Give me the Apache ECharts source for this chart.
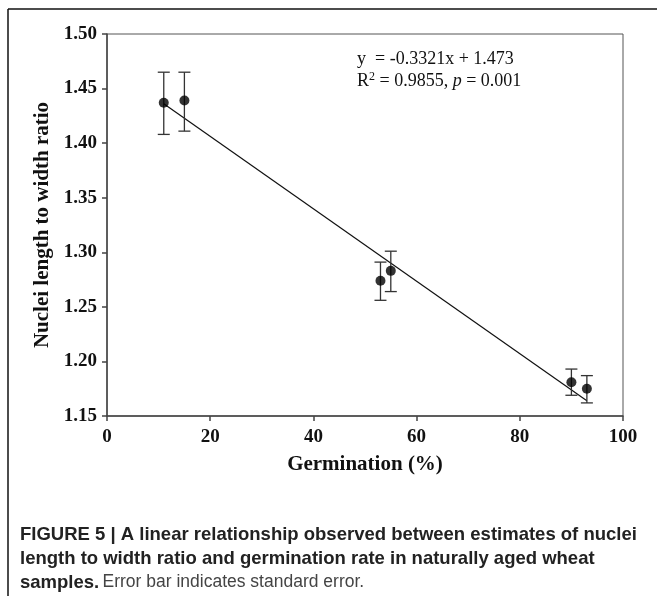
<!DOCTYPE html>
<html>
<head>
<meta charset="utf-8">
<script src="https://cdn.jsdelivr.net/npm/echarts@6/dist/echarts.min.js"></script>
<style>
  html, body { margin: 0; padding: 0; background: #fff; }
  #chart { width: 657px; height: 596px; }
</style>
</head>
<body>
<div id="chart"></div>
<script>
// germination (%) vs nuclei length/width ratio, with standard error
const germination = [11, 15, 53, 55, 90, 93];
const ratio = [1.437, 1.439, 1.274, 1.283, 1.181, 1.175];
const errLow = [1.408, 1.411, 1.256, 1.264, 1.169, 1.162];
const errHigh = [1.465, 1.465, 1.291, 1.301, 1.193, 1.187];
// fitted line end points (y = -0.3321x + 1.473)
const fitLine = [[11, 1.436], [93, 1.164]];
const xTicks = [0, 20, 40, 60, 80, 100];
const yTicks = [1.15, 1.20, 1.25, 1.30, 1.35, 1.40, 1.45, 1.50];

const chart = echarts.init(document.getElementById('chart'));

const serif = 'Liberation Serif';
const sans = 'Liberation Sans';

const points = germination.map((g, i) => [g, ratio[i]]);
const errData = germination.map((g, i) => [g, errLow[i], errHigh[i]]);

const option = {
  backgroundColor: '#fff',
  animation: false,
  grid: {
    left: 107, right: 34, top: 34, bottom: 180,
    show: true,
    borderColor: '#555',
    borderWidth: 1
  },
  xAxis: {
    type: 'value',
    min: xTicks[0],
    max: xTicks[xTicks.length - 1],
    interval: 20,
    name: 'Germination (%)',
    nameLocation: 'middle',
    nameGap: 38,
    nameTextStyle: { fontFamily: serif, fontWeight: 'bold', fontSize: 21, color: '#111' },
    axisLine: { show: true, onZero: false, lineStyle: { color: '#444', width: 1.5 } },
    axisTick: { show: true, inside: false, length: 5, lineStyle: { color: '#444', width: 1.5 } },
    axisLabel: { fontFamily: serif, fontWeight: 'bold', fontSize: 19, color: '#111', margin: 12 },
    splitLine: { show: false }
  },
  yAxis: {
    type: 'value',
    min: yTicks[0],
    max: yTicks[yTicks.length - 1],
    interval: 0.05,
    name: 'Nuclei length to width ratio',
    nameLocation: 'middle',
    nameGap: 54,
    nameTextStyle: { fontFamily: serif, fontWeight: 'bold', fontSize: 21, color: '#111' },
    axisLine: { show: true, onZero: false, lineStyle: { color: '#444', width: 1.5 } },
    axisTick: { show: true, inside: false, length: 5, lineStyle: { color: '#444', width: 1.5 } },
    axisLabel: {
      fontFamily: serif, fontWeight: 'bold', fontSize: 19, color: '#111', margin: 10,
      formatter: v => v.toFixed(2)
    },
    splitLine: { show: false }
  },
  series: [
    {
      name: 'fit',
      type: 'line',
      data: fitLine,
      symbol: 'none',
      lineStyle: { color: '#111', width: 1.2 },
      z: 2
    },
    {
      name: 'se',
      type: 'custom',
      data: errData,
      renderItem: (params, api) => {
        const x = api.value(0);
        const lo = api.coord([x, api.value(1)]);
        const hi = api.coord([x, api.value(2)]);
        const cap = 6;
        const style = { stroke: '#333', lineWidth: 1.3 };
        return {
          type: 'group',
          children: [
            { type: 'line', shape: { x1: lo[0], y1: lo[1], x2: hi[0], y2: hi[1] }, style },
            { type: 'line', shape: { x1: lo[0] - cap, y1: lo[1], x2: lo[0] + cap, y2: lo[1] }, style },
            { type: 'line', shape: { x1: hi[0] - cap, y1: hi[1], x2: hi[0] + cap, y2: hi[1] }, style }
          ]
        };
      },
      z: 3
    },
    {
      name: 'ratio',
      type: 'scatter',
      data: points,
      symbol: 'circle',
      symbolSize: 10,
      itemStyle: { color: '#000' },
      z: 4
    }
  ],
  graphic: [
    // outer figure frame (top and left)
    { type: 'line', shape: { x1: 8, y1: 9, x2: 657, y2: 9 }, style: { stroke: '#111', lineWidth: 1.5 } },
    { type: 'line', shape: { x1: 8, y1: 9, x2: 8, y2: 596 }, style: { stroke: '#111', lineWidth: 1.5 } },
    // regression equation
    {
      type: 'text', left: 357, top: 50,
      style: { text: 'y  = -0.3321x + 1.473', fontFamily: serif, fontSize: 18, fill: '#111' }
    },
    {
      type: 'text', left: 357, top: 71,
      style: {
        text: 'R{sup|2} = 0.9855, {it|p} = 0.001',
        fontFamily: serif, fontSize: 18, fill: '#111',
        rich: {
          sup: { fontFamily: serif, fontSize: 12, verticalAlign: 'top', padding: [0, 0, 9, 0] },
          it: { fontFamily: serif, fontSize: 18, fontStyle: 'italic' }
        }
      }
    },
    // figure caption
    {
      type: 'text', left: 20, top: 525,
      style: {
        text: 'FIGURE 5 | A linear relationship observed between estimates of nuclei',
        fontFamily: sans, fontWeight: 'bold', fontSize: 18.5, fill: '#222'
      }
    },
    {
      type: 'text', left: 20, top: 549,
      style: {
        text: 'length to width ratio and germination rate in naturally aged wheat',
        fontFamily: sans, fontWeight: 'bold', fontSize: 18.5, fill: '#222'
      }
    },
    {
      type: 'text', left: 20, top: 573,
      style: {
        text: '{b|samples.} {r|Error bar indicates standard error.}',
        rich: {
          b: { fontFamily: sans, fontWeight: 'bold', fontSize: 18.5, fill: '#222' },
          r: { fontFamily: sans, fontSize: 17.5, fill: '#444' }
        }
      }
    }
  ]
};

chart.setOption(option);
</script>
</body>
</html>
